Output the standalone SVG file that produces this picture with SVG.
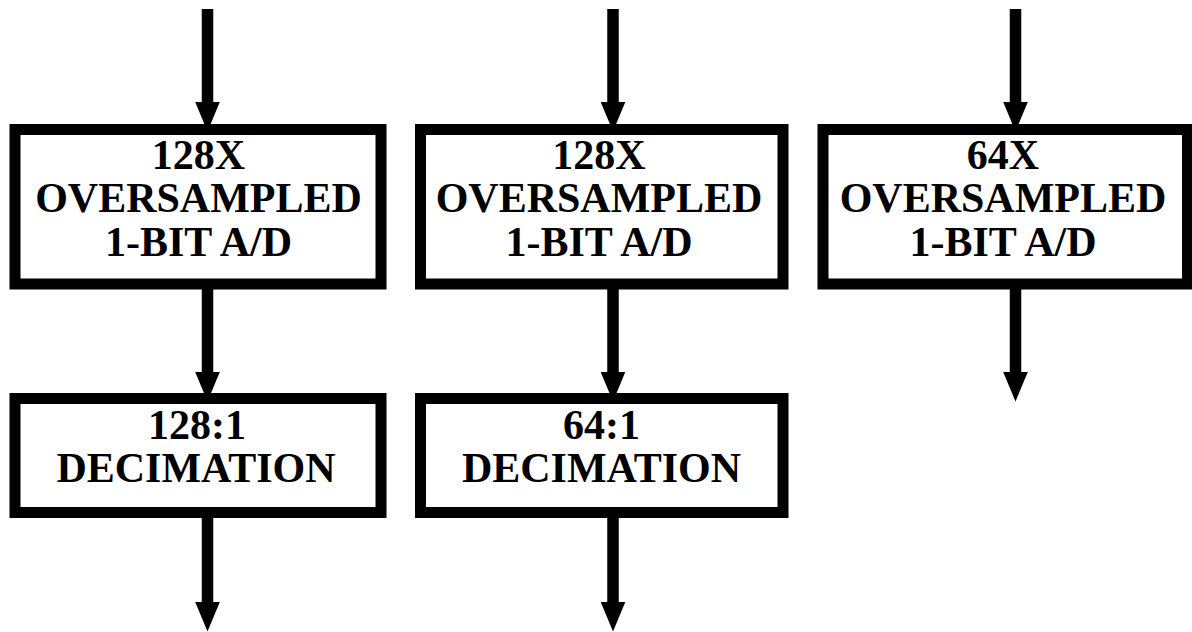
<svg xmlns="http://www.w3.org/2000/svg" width="1192" height="632" viewBox="0 0 1192 632">
  <style>
    .box { fill: #fff; stroke: #000; stroke-width: 11; }
    .lbl { font-family: "Liberation Serif", "Times New Roman", serif; font-weight: bold; font-size: 42px; fill: #000; text-anchor: middle; }
    .wire { stroke: #000; stroke-width: 11.5; fill: none; marker-end: url(#head); }
  </style>
  <defs>
    <marker id="head" markerUnits="userSpaceOnUse" viewBox="0 -12.5 30 25" markerWidth="30" markerHeight="25" refX="0.5" refY="0" orient="auto">
      <path d="M0,-12.5 L30,0 L0,12.5 z" fill="#000"/>
    </marker>
  </defs>

  <rect width="1192" height="632" fill="#fff"/>

  <!-- connectors -->
  <g id="connectors">
    <line class="wire" x1="207.5" y1="9" x2="207.5" y2="102"/>
    <line class="wire" x1="207.5" y1="284" x2="207.5" y2="372"/>
    <line class="wire" x1="207.5" y1="512" x2="207.5" y2="602"/>

    <line class="wire" x1="613" y1="9" x2="613" y2="102"/>
    <line class="wire" x1="613" y1="284" x2="613" y2="372"/>
    <line class="wire" x1="613" y1="512" x2="613" y2="602"/>

    <line class="wire" x1="1015.5" y1="9" x2="1015.5" y2="102"/>
    <line class="wire" x1="1015.5" y1="284" x2="1015.5" y2="372"/>
  </g>

  <!-- converters -->
  <g id="adc-128x-a">
    <rect class="box" x="15" y="129.5" width="366" height="154.5"/>
    <text class="lbl" x="198.5" y="168.5">128X</text>
    <text class="lbl" x="198.5" y="212">OVERSAMPLED</text>
    <text class="lbl" x="198.5" y="255.5">1-BIT A/D</text>
  </g>
  <g id="adc-128x-b">
    <rect class="box" x="420.5" y="129.5" width="362.5" height="154.5"/>
    <text class="lbl" x="599" y="168.5">128X</text>
    <text class="lbl" x="599" y="212">OVERSAMPLED</text>
    <text class="lbl" x="599" y="255.5">1-BIT A/D</text>
  </g>
  <g id="adc-64x">
    <rect class="box" x="823" y="129.5" width="364.5" height="154.5"/>
    <text class="lbl" x="1003" y="168.5">64X</text>
    <text class="lbl" x="1003" y="212">OVERSAMPLED</text>
    <text class="lbl" x="1003" y="255.5">1-BIT A/D</text>
  </g>

  <!-- decimators -->
  <g id="dec-128">
    <rect class="box" x="15" y="398.5" width="366" height="114"/>
    <text class="lbl" x="197" y="439">128:1</text>
    <text class="lbl" x="196" y="481.5">DECIMATION</text>
  </g>
  <g id="dec-64">
    <rect class="box" x="420.5" y="398.5" width="362.5" height="114"/>
    <text class="lbl" x="601.5" y="439">64:1</text>
    <text class="lbl" x="601.5" y="481.5">DECIMATION</text>
  </g>
</svg>
